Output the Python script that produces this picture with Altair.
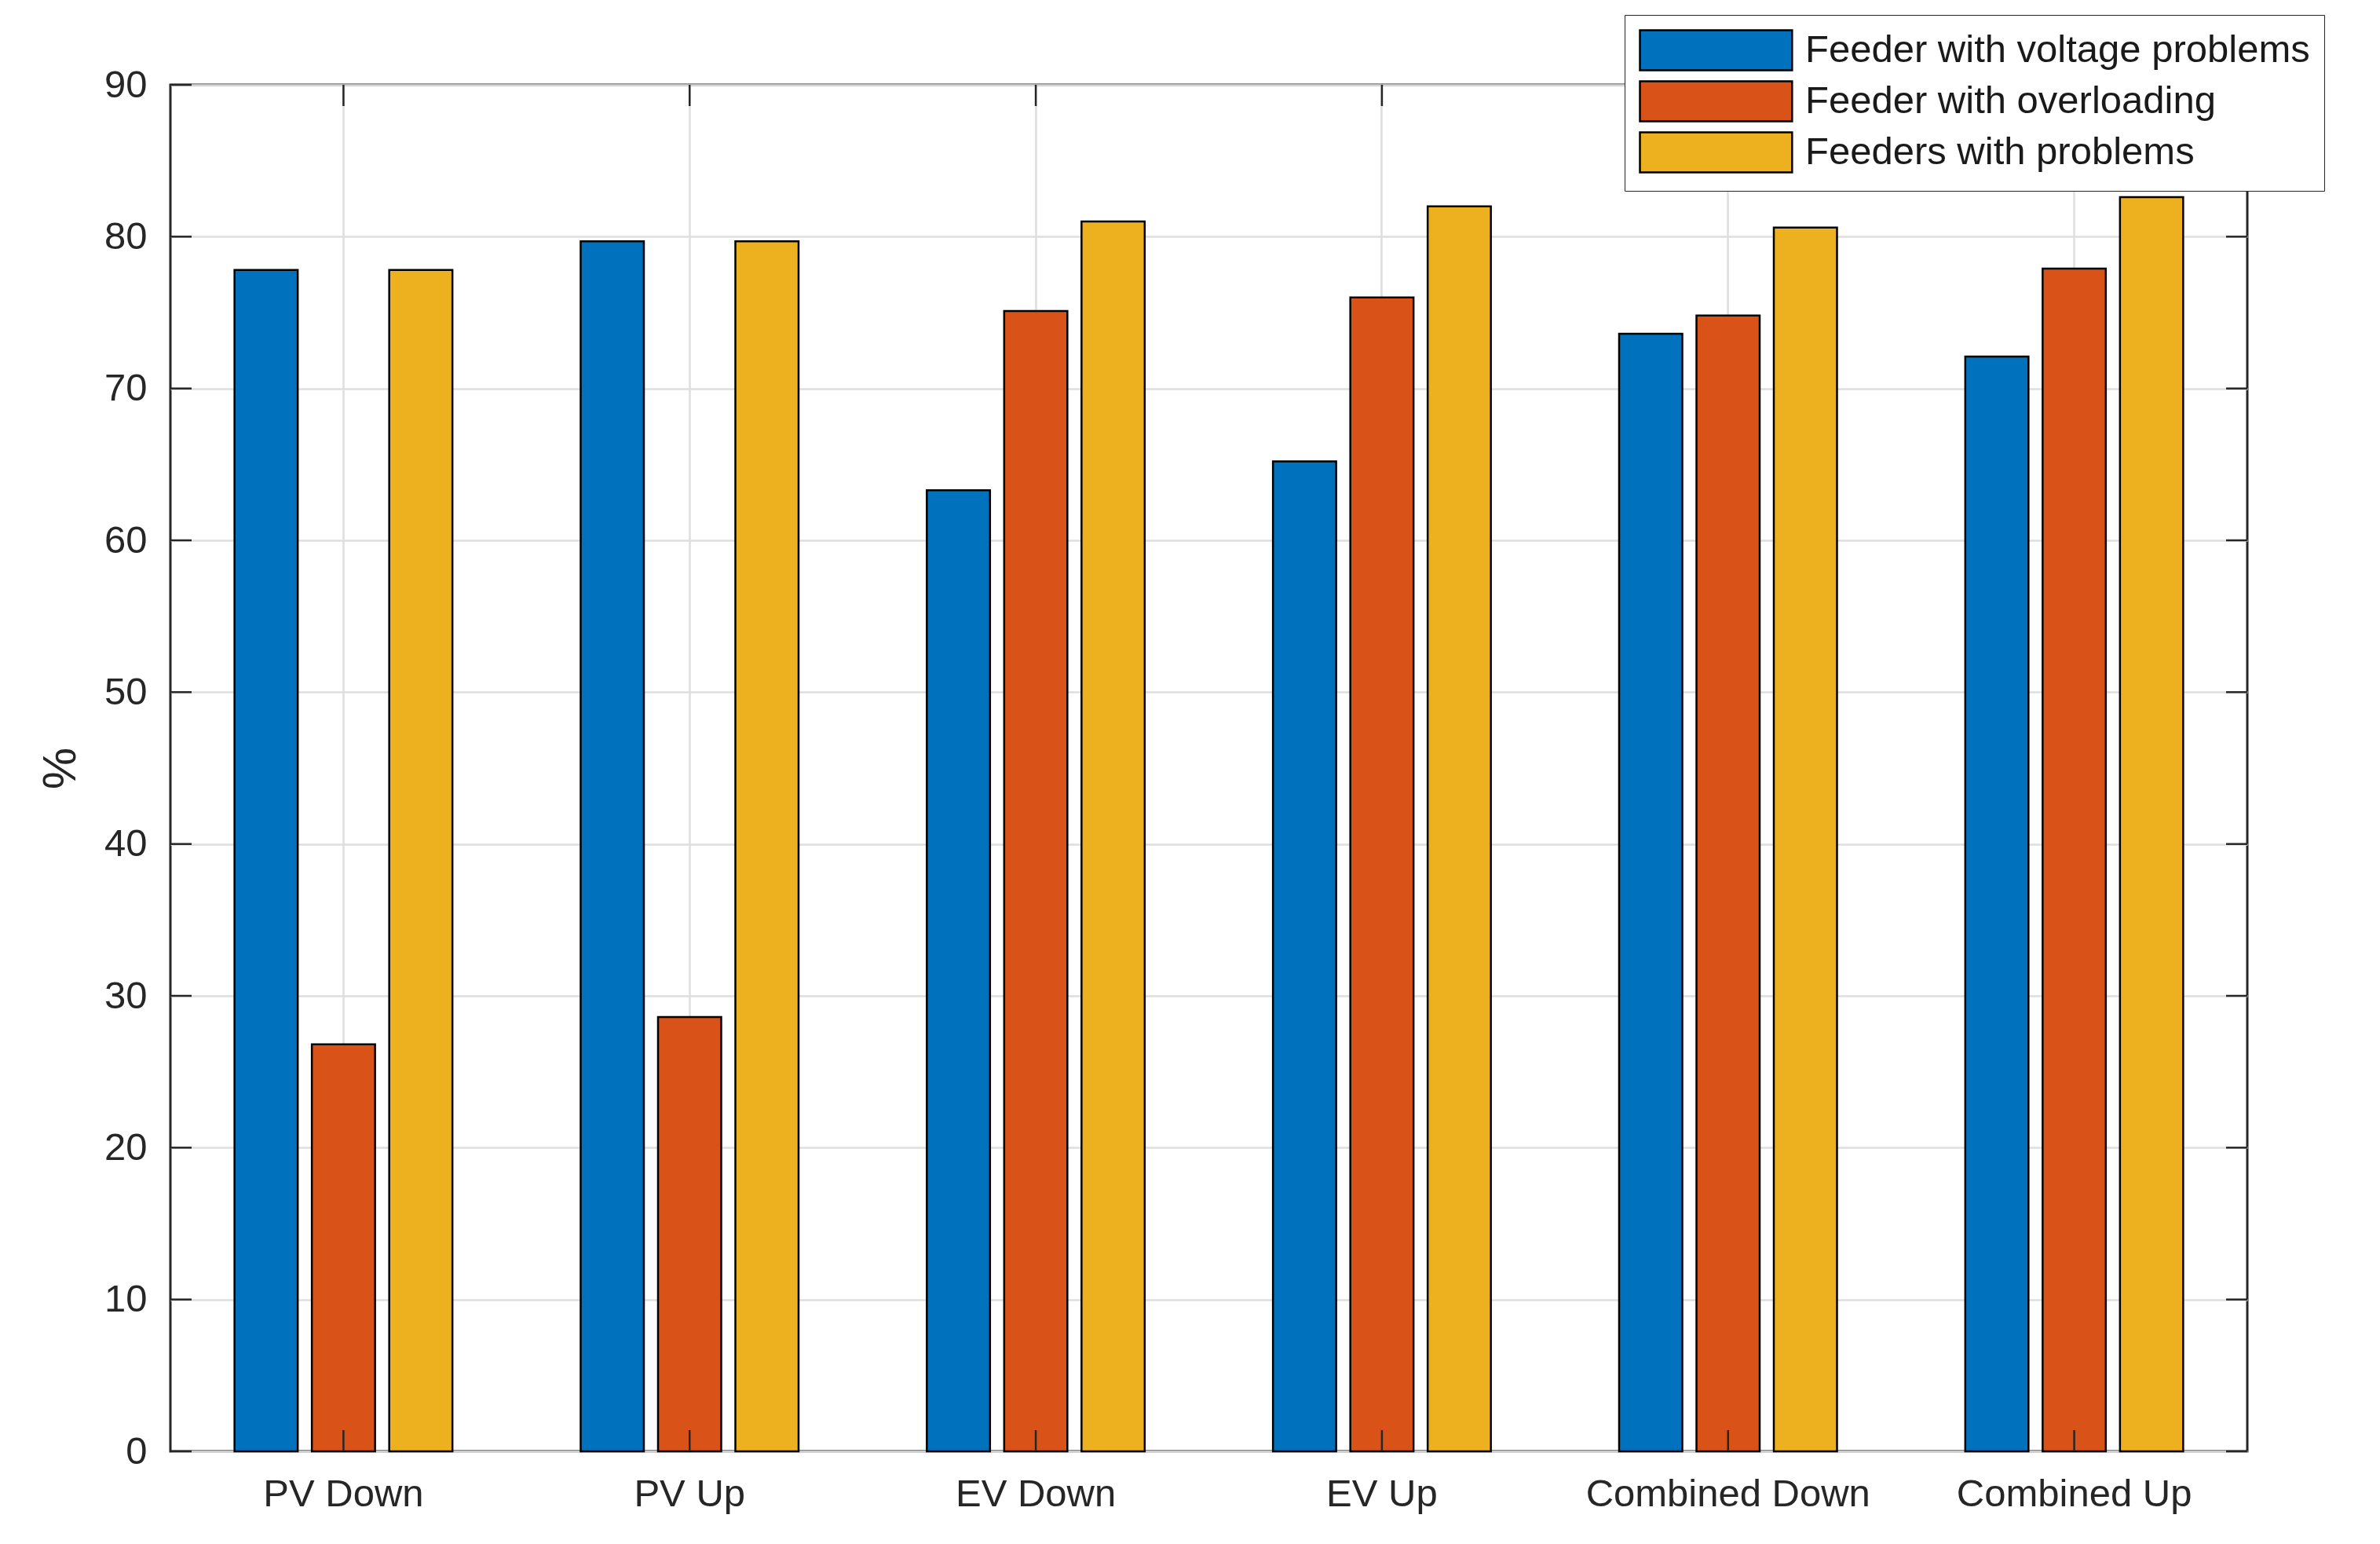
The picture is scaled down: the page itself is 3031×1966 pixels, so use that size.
import altair as alt
import pandas as pd

categories = ["PV Down", "PV Up", "EV Down", "EV Up", "Combined Down", "Combined Up"]
series = ["Feeder with voltage problems", "Feeder with overloading", "Feeders with problems"]
voltage = [77.8, 79.7, 63.3, 65.2, 73.6, 72.1]
overloading = [26.8, 28.6, 75.1, 76.0, 74.8, 77.9]
problems = [77.8, 79.7, 81.0, 82.0, 80.6, 82.6]
y_ticks = [0, 10, 20, 30, 40, 50, 60, 70, 80, 90]
colors = ["#0072BD", "#D95319", "#EDB120"]

rows = []
for s, vals in zip(series, [voltage, overloading, problems]):
    for c, v in zip(categories, vals):
        rows.append({"category": c, "series": s, "value": v})
df = pd.DataFrame(rows)
xt = pd.DataFrame({"category": categories})
yt = pd.DataFrame({"value": y_ticks})

W, H = 2645, 1740
FONT = "Liberation Sans"
AX = "#262626"
TICK = 27

x_scale = alt.Scale(domain=categories, paddingInner=0, paddingOuter=0)
y_scale = alt.Scale(domain=[0, 90], nice=False)

x_axis = alt.Axis(title=None, labelAngle=0, grid=True, gridColor="#dedede", gridWidth=2.5,
                  ticks=False, domain=False, labelPadding=30, labelFontSize=49,
                  labelColor=AX, labelFont=FONT, labelLimit=0)
y_axis = alt.Axis(title="%", values=y_ticks, grid=True, gridColor="#dedede", gridWidth=2.5,
                  ticks=False, domain=False, labelPadding=30, labelFontSize=49,
                  labelColor=AX, labelFont=FONT, titleFont=FONT, titleFontSize=60,
                  titleFontWeight="normal", titleColor=AX, titlePadding=24)

bars = alt.Chart(df).mark_bar(stroke="black", strokeWidth=2.5).encode(
    x=alt.X("category:N", scale=x_scale, sort=categories, axis=x_axis),
    xOffset=alt.XOffset("series:N", sort=series,
                        scale=alt.Scale(domain=series, paddingInner=0.183, paddingOuter=0.829)),
    y=alt.Y("value:Q", scale=y_scale, axis=y_axis),
    color=alt.Color("series:N", sort=series, scale=alt.Scale(domain=series, range=colors),
                    legend=alt.Legend(title=None, orient="none", legendX=1852, legendY=-89,
                                      direction="vertical",
                                      symbolType="M-1,-1H6.6V1H-1Z", symbolSize=2601,
                                      symbolStrokeColor="black", symbolStrokeWidth=2.5,
                                      symbolOpacity=1,
                                      labelFontSize=49, labelFont=FONT, labelColor="#1a1a1a",
                                      labelOffset=158, rowPadding=3, padding=18, labelLimit=0,
                                      strokeColor=AX, fillColor="white")),
)

rule_kw = dict(color=AX, strokeWidth=2.5)
bottom_ticks = alt.Chart(xt).mark_rule(**rule_kw).encode(
    x=alt.X("category:N", scale=x_scale, sort=categories, axis=x_axis),
    y=alt.value(H), y2=alt.value(H - TICK))
top_ticks = alt.Chart(xt).mark_rule(**rule_kw).encode(
    x=alt.X("category:N", scale=x_scale, sort=categories, axis=x_axis),
    y=alt.value(0), y2=alt.value(TICK))
left_ticks = alt.Chart(yt).mark_rule(**rule_kw).encode(
    y=alt.Y("value:Q", scale=y_scale, axis=y_axis),
    x=alt.value(0), x2=alt.value(TICK))
right_ticks = alt.Chart(yt).mark_rule(**rule_kw).encode(
    y=alt.Y("value:Q", scale=y_scale, axis=y_axis),
    x=alt.value(W - TICK), x2=alt.value(W))

chart = alt.layer(bars, bottom_ticks, top_ticks, left_ticks, right_ticks).properties(
    width=W, height=H,
    autosize=alt.AutoSizeParams(type="none"),
    padding={"left": 209, "top": 100, "right": 160, "bottom": 110},
    background="white",
).configure_view(stroke=AX, strokeWidth=3)

chart.save("out.html", embed_options={"renderer": "svg", "actions": False})
